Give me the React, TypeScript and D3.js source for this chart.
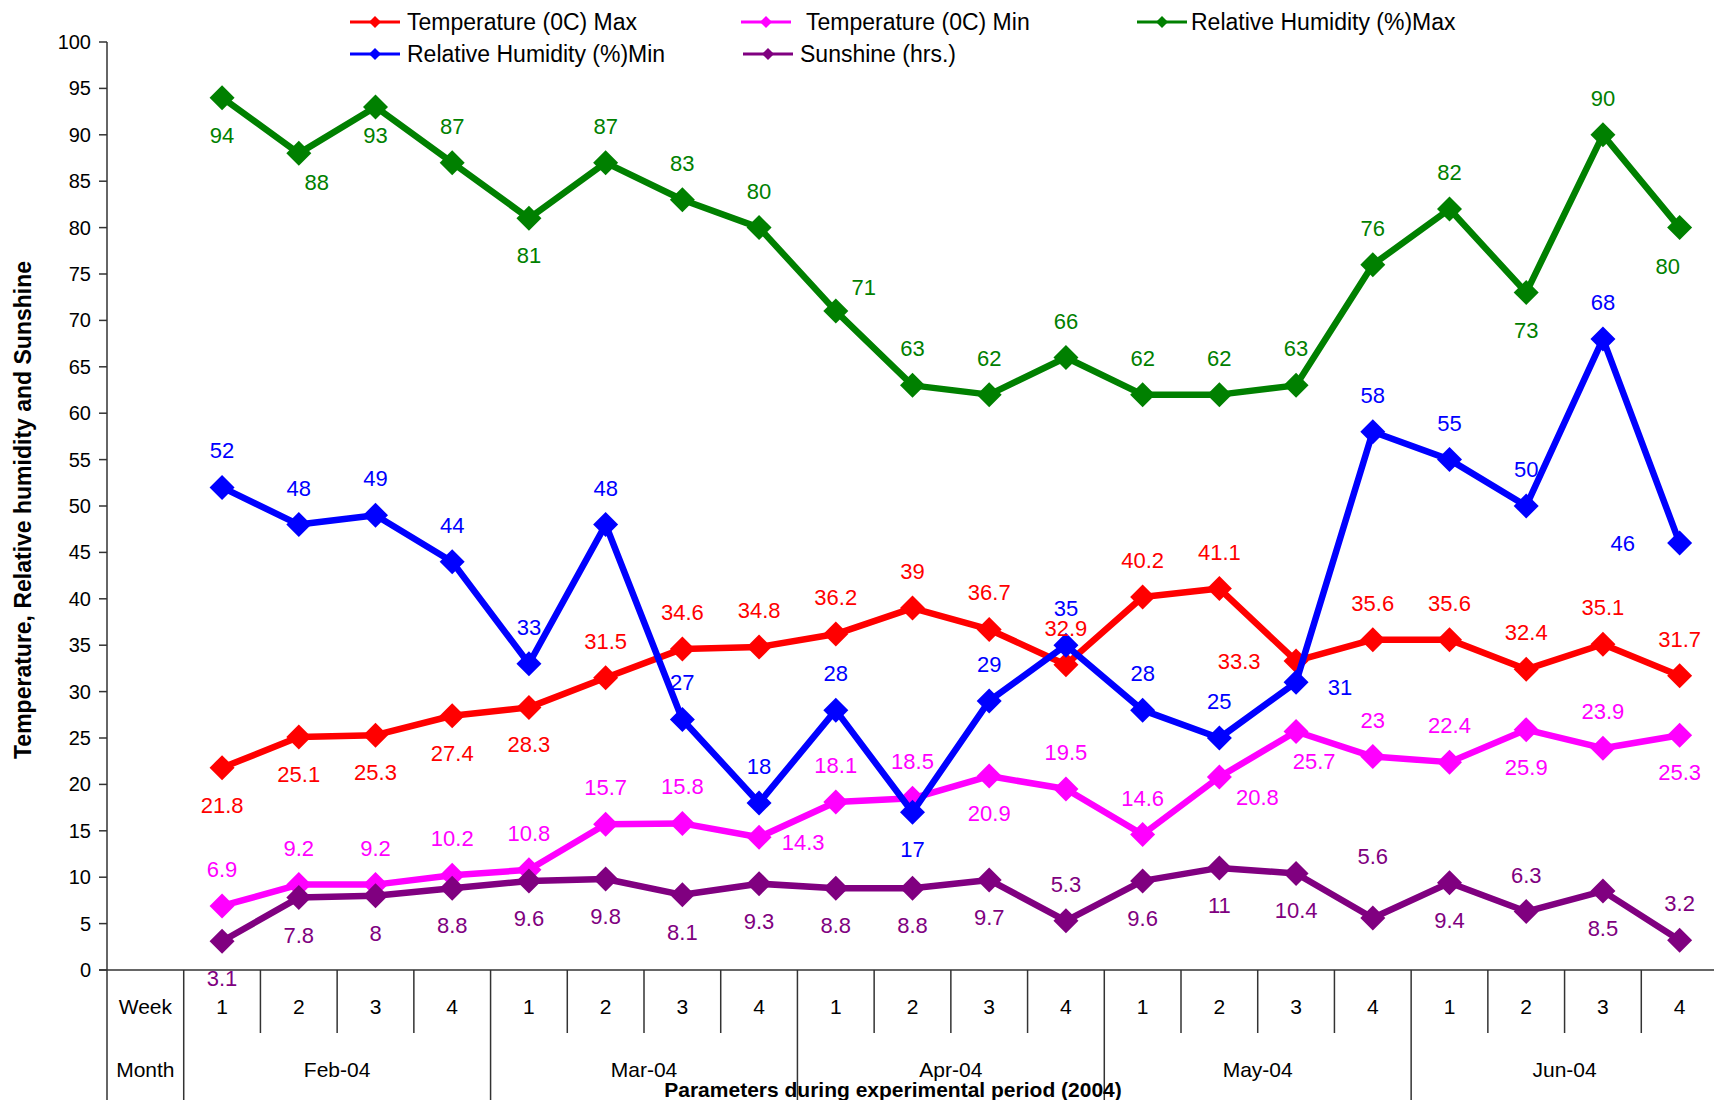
import * as d3 from "d3";

const W = 1714;
const H = 1100;
const FONT = "'Liberation Sans', Arial, sans-serif";

// chart data
const weeks = ["1", "2", "3", "4", "1", "2", "3", "4", "1", "2", "3", "4", "1", "2", "3", "4", "1", "2", "3", "4"];
const months = ["Feb-04", "Mar-04", "Apr-04", "May-04", "Jun-04"];

const tempMax = [21.8, 25.1, 25.3, 27.4, 28.3, 31.5, 34.6, 34.8, 36.2, 39, 36.7, 32.9, 40.2, 41.1, 33.3, 35.6, 35.6, 32.4, 35.1, 31.7];
const tempMin = [6.9, 9.2, 9.2, 10.2, 10.8, 15.7, 15.8, 14.3, 18.1, 18.5, 20.9, 19.5, 14.6, 20.8, 25.7, 23, 22.4, 25.9, 23.9, 25.3];
const rhMax = [94, 88, 93, 87, 81, 87, 83, 80, 71, 63, 62, 66, 62, 62, 63, 76, 82, 73, 90, 80];
const rhMin = [52, 48, 49, 44, 33, 48, 27, 18, 28, 17, 29, 35, 28, 25, 31, 58, 55, 50, 68, 46];
const sunshine = [3.1, 7.8, 8, 8.8, 9.6, 9.8, 8.1, 9.3, 8.8, 8.8, 9.7, 5.3, 9.6, 11, 10.4, 5.6, 9.4, 6.3, 8.5, 3.2];

// where each data label sits relative to its point
const tempMaxLbl = ["b", "b", "b", "b", "b", "a", "a", "a", "a", "a", "a", "a", "a", "a", "l", "a", "a", "a", "a", "a"];
const tempMinLbl = ["a", "a", "a", "a", "a", "a", "a", "r", "a", "a", "b", "a", "a", "rb", "br", "a", "a", "b", "a", "b"];
const rhMaxLbl = ["b", "br", "bs", "a", "b", "a", "a", "a", "ar", "a", "a", "a", "a", "a", "a", "a", "a", "b", "a", "bl"];
const rhMinLbl = ["a", "a", "a", "a", "a", "a", "a", "a", "a", "b", "a", "a", "a", "a", "r", "a", "a", "a", "a", "l"];
const sunLbl = ["b", "b", "b", "b", "b", "b", "b", "b", "b", "b", "b", "a", "b", "b", "b", "aa", "b", "a", "b", "a"];

const lblOffset: Record<string, [number, number]> = {
  a: [0, -37],
  aa: [0, -62],
  b: [0, 37],
  bs: [0, 28],
  ar: [28, -24],
  br: [18, 29],
  bl: [-12, 38],
  r: [44, 5],
  rb: [38, 20],
  l: [-57, 0],
};

const series = [
  { name: "Temperature (0C) Max", color: "#FF0000", values: tempMax, lbl: tempMaxLbl },
  { name: "Temperature (0C) Min", color: "#FF00FF", values: tempMin, lbl: tempMinLbl },
  { name: "Relative Humidity (%)Max", color: "#008000", values: rhMax, lbl: rhMaxLbl },
  { name: "Relative Humidity (%)Min", color: "#0000FF", values: rhMin, lbl: rhMinLbl },
  { name: "Sunshine (hrs.)", color: "#800080", values: sunshine, lbl: sunLbl },
];

// legend layout: [series index, line x, text x, row y]
const legendItems: [number, number, number, number][] = [
  [0, 350, 407, 22],
  [1, 741, 806, 22],
  [2, 1137, 1191, 22],
  [3, 350, 407, 54],
  [4, 743, 800, 54],
];

const diamond = (r: number) => `M0,${-r}L${r},0L0,${r}L${-r},0Z`;

export default function App() {
  const y = d3.scaleLinear([0, 100], [970, 42]);
  // column 0 holds the Week / Month captions
  const x = d3.scaleBand(d3.range(21).map(String), [107, 1718]);
  const bw = x.bandwidth();
  const cx = (i: number) => (x(String(i + 1)) as number) + bw / 2;
  const axisY = 970;
  const weekBottom = 1033;

  const line = d3.line<number>((d, i) => cx(i), (d) => y(d));

  return (
    <svg
      width={W}
      height={H}
      style={{ position: "absolute", left: 0, top: 0, background: "#fff" }}
      fontFamily={FONT}
    >
      {/* y axis */}
      <g stroke="#333" strokeWidth={1.5}>
        <line x1={107} x2={107} y1={y(100)} y2={H} />
        {y.ticks(20).map((t) => (
          <line key={t} x1={99} x2={107} y1={y(t)} y2={y(t)} />
        ))}
        <line x1={99} x2={W} y1={axisY} y2={axisY} />
        {/* table grid */}
        <line x1={x("1")} x2={x("1")} y1={axisY} y2={H} />
        {d3.range(1, 20).map((i) => {
          const xx = x(String(i + 1)) as number;
          return <line key={i} x1={xx} x2={xx} y1={axisY} y2={i % 4 === 0 ? H : weekBottom} />;
        })}
      </g>
      <g fontSize={20} fill="#000" textAnchor="end">
        {y.ticks(20).map((t) => (
          <text key={t} x={91} y={y(t) + 7}>
            {t}
          </text>
        ))}
      </g>

      {/* week / month table */}
      <g fontSize={21} fill="#000" textAnchor="middle">
        <text x={(x("0") as number) + bw / 2} y={1014}>Week</text>
        <text x={(x("0") as number) + bw / 2} y={1077}>Month</text>
        {weeks.map((w, i) => (
          <text key={i} x={cx(i)} y={1014}>
            {w}
          </text>
        ))}
        {months.map((m, j) => (
          <text key={m} x={(cx(j * 4) + cx(j * 4 + 3)) / 2} y={1077}>
            {m}
          </text>
        ))}
      </g>

      {/* series */}
      {series.map((s) => (
        <g key={s.name}>
          <path d={line(s.values) ?? ""} fill="none" stroke={s.color} strokeWidth={6.5} strokeLinejoin="round" />
          {s.values.map((v, i) => (
            <path key={i} d={diamond(12.5)} transform={`translate(${cx(i)},${y(v)})`} fill={s.color} />
          ))}
        </g>
      ))}

      {/* data labels */}
      <g fontSize={22} textAnchor="middle">
        {series.map((s) =>
          s.values.map((v, i) => {
            const [dx, dy] = lblOffset[s.lbl[i]];
            return (
              <text key={s.name + i} x={cx(i) + dx} y={y(v) + dy + 8}>
                <tspan fill={s.color}>{v}</tspan>
              </text>
            );
          })
        )}
      </g>

      {/* legend */}
      <g fontSize={23} fill="#000">
        {legendItems.map(([si, lx, tx, ly]) => (
          <g key={si}>
            <line x1={lx} x2={lx + 50} y1={ly} y2={ly} stroke={series[si].color} strokeWidth={3} />
            <path d={diamond(6)} transform={`translate(${lx + 25},${ly})`} fill={series[si].color} />
            <text x={tx} y={ly + 8}>
              {series[si].name}
            </text>
          </g>
        ))}
      </g>

      {/* axis titles */}
      <text
        transform="translate(31,510) rotate(-90)"
        textAnchor="middle"
        fontSize={23}
        fontWeight="bold"
      >
        Temperature, Relative humidity and Sunshine
      </text>
      <text x={893} y={1097} textAnchor="middle" fontSize={21} fontWeight="bold">
        Parameters during experimental period (2004)
      </text>
    </svg>
  );
}
